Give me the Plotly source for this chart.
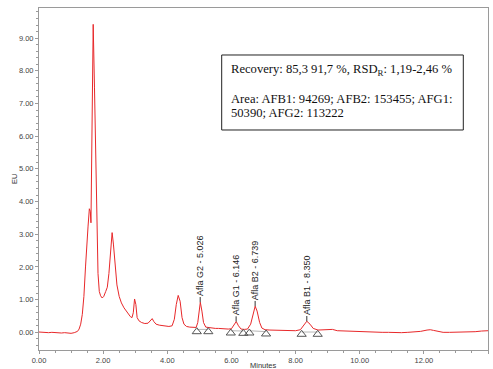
import plotly.graph_objects as go

# Fluorescence chromatogram (EU vs retention time in minutes)
minutes = [
    0.00, 0.10, 0.20, 0.30, 0.40, 0.50, 0.60, 0.70, 0.80, 0.90, 1.00, 1.10, 1.20, 1.25,
    1.30, 1.35, 1.40, 1.45, 1.50, 1.51, 1.53, 1.57, 1.60, 1.62, 1.65, 1.69, 1.73, 1.77,
    1.80, 1.84, 1.88, 1.92, 1.97, 2.02, 2.08, 2.13, 2.18, 2.23, 2.28, 2.32, 2.37, 2.43,
    2.50, 2.57, 2.65, 2.75, 2.85, 2.90, 2.94, 2.98, 3.02, 3.06, 3.12, 3.20, 3.30, 3.40,
    3.48, 3.53, 3.58, 3.65, 3.75, 3.85, 3.95, 4.05, 4.15, 4.22, 4.28, 4.34, 4.40, 4.46,
    4.52, 4.60, 4.70, 4.80, 4.90, 4.95, 5.00, 5.03, 5.08, 5.13, 5.20, 5.30, 5.40, 5.50,
    5.60, 5.70, 5.80, 5.90, 6.00, 6.07, 6.15, 6.22, 6.30, 6.40, 6.50, 6.60, 6.68, 6.74,
    6.80, 6.88, 6.95, 7.05, 7.20, 7.40, 7.60, 7.80, 8.00, 8.15, 8.25, 8.35, 8.45, 8.55,
    8.70, 8.90, 9.05, 9.15, 9.30, 9.50, 9.70, 9.90, 10.10, 10.30, 10.50, 10.70, 10.90,
    11.10, 11.30, 11.50, 11.70, 11.90, 12.10, 12.20, 12.30, 12.45, 12.60, 12.80, 13.00,
    13.20, 13.40, 13.60, 13.80, 14.00,
]
eu = [
    0.01, 0.00, 0.01, -0.01, 0.00, -0.01, -0.01, -0.02, -0.01, -0.02, -0.03, -0.01, 0.03, 0.10,
    0.25, 0.55, 1.10, 2.00, 2.95, 3.15, 3.25, 3.78, 3.70, 3.35, 5.50, 9.42, 7.50, 5.00,
    3.20, 1.80, 1.25, 1.12, 1.05, 1.10, 1.25, 1.38, 1.80, 2.60, 3.05, 2.70, 2.00, 1.45,
    1.10, 0.90, 0.75, 0.60, 0.48, 0.45, 0.60, 1.02, 0.85, 0.45, 0.35, 0.30, 0.27, 0.28,
    0.36, 0.42, 0.33, 0.25, 0.22, 0.21, 0.20, 0.18, 0.20, 0.40, 0.85, 1.13, 0.95, 0.45,
    0.25, 0.18, 0.16, 0.15, 0.15, 0.30, 0.75, 0.92, 0.65, 0.30, 0.16, 0.14, 0.13, 0.12,
    0.12, 0.11, 0.11, 0.10, 0.11, 0.20, 0.33, 0.20, 0.10, 0.09, 0.10, 0.25, 0.60, 0.80,
    0.65, 0.30, 0.13, 0.08, 0.07, 0.07, 0.06, 0.06, 0.05, 0.08, 0.20, 0.34, 0.25, 0.12,
    0.07, 0.07, 0.09, 0.09, 0.05, 0.04, 0.03, 0.03, 0.02, 0.02, 0.01, 0.00, 0.00,
    -0.01, -0.01, 0.00, 0.01, 0.03, 0.07, 0.08, 0.06, 0.02, 0.00, 0.00, 0.00,
    0.01, 0.01, 0.02, 0.04, 0.05,
]

# Identified aflatoxin peaks
peak_names = ["Afla G2", "Afla G1", "Afla B2", "Afla B1"]
peak_rt = [5.026, 6.146, 6.739, 8.350]
peak_height = [0.92, 0.33, 0.80, 0.34]

# Integration start / end of each peak and the signal level there
bound_rt = [4.92, 5.28, 5.98, 6.37, 6.56, 7.08, 8.19, 8.69]
bound_level = [0.15, 0.15, 0.11, 0.10, 0.11, 0.08, 0.07, 0.07]

x_ticks = [0, 2, 4, 6, 8, 10, 12, 14]
y_ticks = [0, 1, 2, 3, 4, 5, 6, 7, 8, 9]

RED = "#e8282a"
AX = "#9a9a9a"
SANS = "Liberation Sans, Arial, sans-serif"
SERIF = "Liberation Serif, Times New Roman, serif"

fig = go.Figure()

fig.add_trace(go.Scatter(
    x=minutes, y=eu, mode="lines",
    line=dict(color=RED, width=1), hoverinfo="skip", showlegend=False,
))

# integration baselines (start -> end of each peak)
base_x, base_y = [], []
for i in range(0, len(bound_rt), 2):
    base_x += [bound_rt[i], bound_rt[i + 1], None]
    base_y += [bound_level[i] - 0.06, bound_level[i + 1] - 0.06, None]
fig.add_trace(go.Scatter(
    x=base_x, y=base_y, mode="lines",
    line=dict(color="#b8b8b8", width=1), hoverinfo="skip", showlegend=False,
))

# open triangle markers under the integration points
tri_drop = 0.13
fig.add_trace(go.Scatter(
    x=bound_rt, y=[v - tri_drop for v in bound_level], mode="markers",
    marker=dict(symbol="triangle-up-open", size=8, color="#555555",
                line=dict(width=1, color="#555555")),
    hoverinfo="skip", showlegend=False,
))

# short leader ticks from each apex to its label
lead = 0.16
lead_x, lead_y = [], []
for rt, h in zip(peak_rt, peak_height):
    lead_x += [rt, rt, None]
    lead_y += [h, h + lead, None]
fig.add_trace(go.Scatter(
    x=lead_x, y=lead_y, mode="lines",
    line=dict(color="#333333", width=1), hoverinfo="skip", showlegend=False,
))

for name, rt, h in zip(peak_names, peak_rt, peak_height):
    fig.add_annotation(
        x=rt, y=h, xref="x", yref="y",
        text=f"{name} - {rt:.3f}", textangle=-90, showarrow=False,
        xanchor="center", yanchor="bottom", yshift=4,
        font=dict(family=SANS, size=9, color="#222222"),
    )

# info box
fig.add_shape(type="rect", xref="paper", yref="paper",
              x0=0.4069, x1=0.945, y0=0.6433, y1=0.8626,
              line=dict(color="#222222", width=1), fillcolor="white", layer="above")
fig.add_annotation(
    xref="paper", yref="paper", x=0.424, y=0.8187, xanchor="left", yanchor="middle",
    text="Recovery: 85,3 91,7 %, RSD<sub>R</sub>: 1,19-2,46 %", showarrow=False,
    font=dict(family=SERIF, size=12.6, color="#111111"),
)
fig.add_annotation(
    xref="paper", yref="paper", x=0.424, y=0.7325, xanchor="left", yanchor="middle",
    text="Area: AFB1: 94269; AFB2: 153455; AFG1:", showarrow=False,
    font=dict(family=SERIF, size=12.6, color="#111111"),
)
fig.add_annotation(
    xref="paper", yref="paper", x=0.424, y=0.6944, xanchor="left", yanchor="middle",
    text="50390; AFG2: 113222", showarrow=False,
    font=dict(family=SERIF, size=12.6, color="#111111"),
)

# axis titles
fig.add_annotation(
    xref="paper", yref="paper", x=0, y=0.5, xshift=-25, textangle=-90,
    text="EU", showarrow=False, xanchor="center", yanchor="middle",
    font=dict(family=SANS, size=7.5, color="#333333"),
)
fig.add_annotation(
    xref="paper", yref="paper", x=0.5, y=0, yshift=-15,
    text="Minutes", showarrow=False, xanchor="center", yanchor="middle",
    font=dict(family=SANS, size=7.5, color="#333333"),
)

fig.update_xaxes(
    range=[0, 14], tickvals=x_ticks, ticktext=[f"{v:.2f}" for v in x_ticks],
    showgrid=False, zeroline=False, showline=True, linecolor=AX, linewidth=1, mirror=True,
    ticks="outside", ticklen=3, tickcolor=AX, tickfont=dict(family=SANS, size=7.5, color="#444444"),
    minor=dict(dtick=0.5, tick0=0, ticks="outside", ticklen=2, tickcolor=AX),
)
fig.update_yaxes(
    range=[-0.54, 9.92], tickvals=y_ticks, ticktext=[f"{v:.2f}" for v in y_ticks],
    showgrid=False, zeroline=False, showline=True, linecolor=AX, linewidth=1, mirror=True,
    ticks="outside", ticklen=3, tickcolor=AX, tickfont=dict(family=SANS, size=7.5, color="#444444"),
    minor=dict(dtick=0.2, tick0=0, ticks="outside", ticklen=2, tickcolor=AX),
)

fig.update_layout(
    width=493, height=369,
    margin=dict(l=39, r=5, t=8, b=19),
    paper_bgcolor="white", plot_bgcolor="white",
    showlegend=False,
)

fig.write_html("out.html")
